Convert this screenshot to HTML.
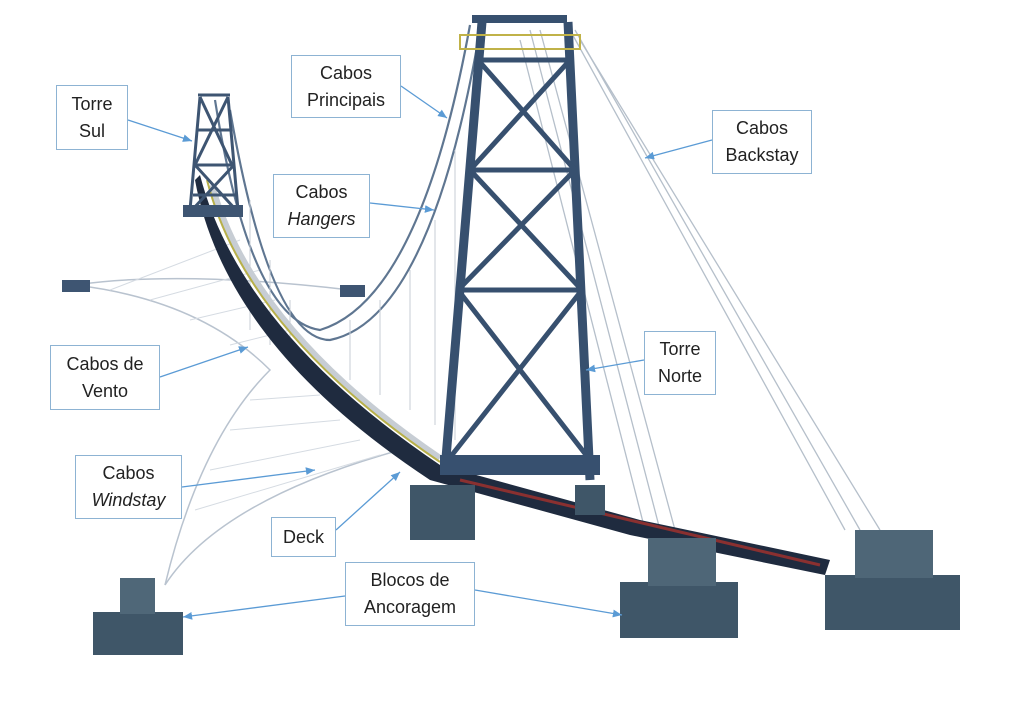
<!DOCTYPE html>
<html><head><meta charset="utf-8"><style>
html,body{margin:0;padding:0;background:#fff;}
.wrap{position:relative;width:1024px;height:705px;overflow:hidden;font-family:"Liberation Sans",sans-serif;}
.lb{position:absolute;background:#fff;border:1.5px solid #8db3d3;box-sizing:border-box;display:flex;align-items:center;justify-content:center;text-align:center;font-size:18px;line-height:27px;color:#222;}
.lb div{display:block;}
</style></head><body><div class="wrap">
<svg width="1024" height="705" style="position:absolute;left:0;top:0">
<defs><marker id="a" markerWidth="8" markerHeight="8" refX="7" refY="4" orient="auto"><path d="M0,1 L7,4 L0,7 z" fill="#5b9bd5"/></marker></defs>
<g stroke="#b9c3cf" stroke-width="1.5" fill="none">
<path d="M75,285 Q200,300 270,370 Q200,440 165,585"/>
<path d="M75,285 Q180,270 350,290"/>
<path d="M165,585 Q220,500 400,450"/>
</g>
<g stroke="#d5dbe2" stroke-width="1" fill="none">
<path d="M110,290 L240,240"/><path d="M150,300 L260,270"/><path d="M190,320 L275,300"/><path d="M230,345 L290,330"/>
<path d="M250,400 L320,395"/><path d="M230,430 L340,420"/><path d="M210,470 L360,440"/><path d="M195,510 L380,455"/>
</g>
<g stroke="#b5bfca" stroke-width="1.3" fill="none">
<path d="M575,30 L860,530"/><path d="M580,40 L880,530"/><path d="M570,30 L845,530"/>
<path d="M530,30 L660,530"/><path d="M540,30 L675,530"/><path d="M520,40 L645,530"/>
</g>
<g stroke="#5f7691" stroke-width="2.2" fill="none">
<path d="M215,100 Q250,320 320,330 Q420,300 470,25"/>
<path d="M230,110 Q270,340 330,340 Q430,320 480,30"/>
</g>
<g stroke="#c7ced6" stroke-width="1">
<path d="M250,200 V330"/><path d="M270,260 V345"/><path d="M290,300 V360"/><path d="M350,320 V380"/><path d="M380,300 V395"/><path d="M410,270 V410"/><path d="M435,220 V425"/><path d="M455,150 V440"/>
</g>
<path d="M200,175 Q240,330 440,465 L640,520 L830,560 L825,575 L630,535 L430,480 Q225,345 195,180 z" fill="#1f2b3f"/>
<path d="M212,185 Q252,330 440,458" stroke="#c7cdd4" stroke-width="6" fill="none"/>
<path d="M207,180 Q245,330 440,462" stroke="#b8b04a" stroke-width="2" fill="none"/>
<path d="M460,480 L820,565" stroke="#8a3030" stroke-width="3" fill="none"/>
<g stroke="#3e5572" stroke-width="3" fill="none">
<path d="M200,97 L190,210 M228,97 L238,210 M198,95 H230 M198,130 H232 M195,165 H234 M193,195 H236 M200,97 L232,165 M228,97 L195,165 M195,165 L236,210 M234,165 L192,210"/>
</g>
<rect x="183" y="205" width="60" height="12" fill="#3e5572"/>
<rect x="62" y="280" width="28" height="12" fill="#3e5572"/>
<rect x="340" y="285" width="25" height="12" fill="#3e5572"/>
<g stroke="#37506f" stroke-width="9" fill="none" stroke-linejoin="round">
<path d="M482,22 L445,470 M568,22 L590,480"/>
</g>
<g stroke="#37506f" stroke-width="5" fill="none">
<path d="M478,60 H570 M470,170 H575 M458,290 H582 M448,460 H590"/>
<path d="M478,60 L575,170 M570,60 L470,170 M470,170 L582,290 M575,170 L458,290 M458,290 L590,460 M582,290 L448,460"/>
</g>
<rect x="472" y="15" width="95" height="8" fill="#37506f"/>
<rect x="460" y="35" width="120" height="14" fill="none" stroke="#c0b248" stroke-width="2"/>
<rect x="440" y="455" width="160" height="20" fill="#37506f"/>
<g fill="#3f5668">
<rect x="410" y="485" width="65" height="55"/><rect x="575" y="485" width="30" height="30"/>
<rect x="93" y="612" width="90" height="43"/><rect x="120" y="578" width="35" height="36" fill="#4f6778"/>
<rect x="620" y="582" width="118" height="56"/><rect x="648" y="538" width="68" height="48" fill="#4e6677"/>
<rect x="825" y="575" width="135" height="55"/><rect x="855" y="530" width="78" height="48" fill="#4e6677"/>
</g>
<g stroke="#5b9bd5" stroke-width="1.3" marker-end="url(#a)">
<line x1="128" y1="120" x2="192" y2="141"/>
<line x1="401" y1="86" x2="447" y2="118"/>
<line x1="712" y1="140" x2="645" y2="158"/>
<line x1="370" y1="203" x2="434" y2="210"/>
<line x1="160" y1="377" x2="248" y2="347"/>
<line x1="644" y1="360" x2="586" y2="370"/>
<line x1="182" y1="487" x2="315" y2="470"/>
<line x1="336" y1="530" x2="400" y2="472"/>
<line x1="345" y1="596" x2="183" y2="617"/>
<line x1="475" y1="590" x2="622" y2="615"/>
</g>
</svg>
<div class="lb" style="left:56px;top:85px;width:72px;height:65px"><div>Torre<br>Sul</div></div>
<div class="lb" style="left:291px;top:55px;width:110px;height:63px"><div>Cabos<br>Principais</div></div>
<div class="lb" style="left:712px;top:110px;width:100px;height:64px"><div>Cabos<br>Backstay</div></div>
<div class="lb" style="left:273px;top:174px;width:97px;height:64px"><div>Cabos<br><i>Hangers</i></div></div>
<div class="lb" style="left:50px;top:345px;width:110px;height:65px"><div>Cabos de<br>Vento</div></div>
<div class="lb" style="left:644px;top:331px;width:72px;height:64px"><div>Torre<br>Norte</div></div>
<div class="lb" style="left:75px;top:455px;width:107px;height:64px"><div>Cabos<br><i>Windstay</i></div></div>
<div class="lb" style="left:271px;top:517px;width:65px;height:40px"><div>Deck</div></div>
<div class="lb" style="left:345px;top:562px;width:130px;height:64px"><div>Blocos de<br>Ancoragem</div></div>
</div></body></html>
